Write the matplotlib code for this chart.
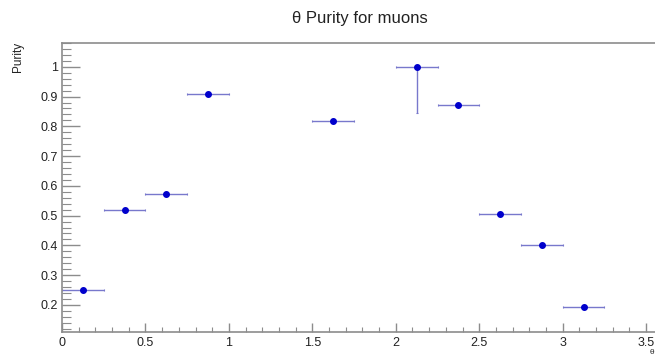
import matplotlib
matplotlib.use("Agg")
import matplotlib.pyplot as plt
from matplotlib.ticker import MultipleLocator, FuncFormatter

plt.rcParams['font.family'] = ['Liberation Sans', 'DejaVu Sans']

# data (bin centers, half-width, purity, errors)
theta = [0.125, 0.375, 0.625, 0.875, 1.625, 2.125, 2.375, 2.625, 2.875, 3.125]
xerr = [0.125] * 10
purity = [0.250, 0.518, 0.574, 0.907, 0.818, 1.000, 0.873, 0.507, 0.402, 0.193]
err_lo = [0, 0, 0, 0, 0, 0.155, 0, 0, 0, 0]
err_hi = [0, 0, 0, 0, 0, 0, 0, 0, 0, 0]

W, H = 655, 354
fig = plt.figure(figsize=(W / 100, H / 100), dpi=100)
ax = fig.add_axes([62 / W, (H - 331.7) / H, 1 - 62 / W, (331.7 - 43) / H])

ax.errorbar(theta, purity, xerr=xerr, yerr=[err_lo, err_hi], fmt='none',
            ecolor='#7878cc', elinewidth=1.0, capsize=1.0, capthick=0.8, zorder=2)
ax.plot(theta, purity, 'o', color='#0000cc', markersize=4, zorder=3)

ax.set_xlim(0, (W - 62) / 166.9)
ax.set_ylim(0.11, 1.08)

ax.xaxis.set_major_locator(MultipleLocator(0.5))
ax.xaxis.set_minor_locator(MultipleLocator(0.1))
ax.yaxis.set_major_locator(MultipleLocator(0.1))
ax.yaxis.set_minor_locator(MultipleLocator(0.02))

def fmt(v, pos):
    s = f"{v:.1f}"
    if s.endswith(".0"):
        s = s[:-2]
    return s
ax.xaxis.set_major_formatter(FuncFormatter(fmt))
ax.yaxis.set_major_formatter(FuncFormatter(fmt))

sc = '#8c8c8c'
for side in ['left', 'bottom', 'top']:
    ax.spines[side].set_color(sc)
    ax.spines[side].set_linewidth(1.2)
ax.spines['right'].set_visible(False)

ax.tick_params(axis='y', which='major', direction='in', length=13, width=1, color=sc,
               labelsize=9, labelcolor='#222222', pad=3)
ax.tick_params(axis='y', which='minor', direction='in', length=6.5, width=0.8, color=sc)
ax.tick_params(axis='x', which='major', direction='in', length=6.5, width=1, color=sc,
               labelsize=9, labelcolor='#222222', pad=4)
ax.tick_params(axis='x', which='minor', direction='in', length=3.5, width=0.8, color=sc)

fig.text(360 / W, 1 - 19 / H, "θ Purity for muons", ha='center', va='center',
         fontsize=12, color='#222222')
fig.text(18 / W, 1 - 57 / H, "Purity", ha='center', va='center', rotation=90,
         fontsize=8.5, color='#222222')
fig.text(652 / W, 1 - 352 / H, "θ", ha='center', va='center', fontsize=6,
         color='#222222')

fig.savefig("out.png", dpi=100)
